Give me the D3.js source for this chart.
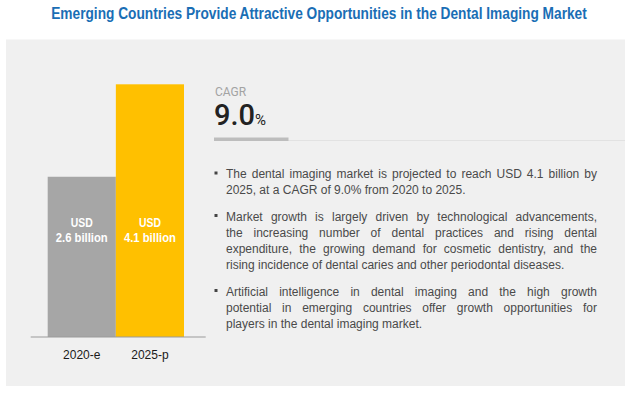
<!DOCTYPE html>
<html>
<head>
<meta charset="utf-8">
<script src="https://cdn.jsdelivr.net/npm/d3@7"></script>
<style>
  body { margin: 0; background: #fff; }
  svg { display: block; }
</style>
</head>
<body>
<script>
const title = 'Emerging Countries Provide Attractive Opportunities in the Dental Imaging Market';
const years = ['2020-e', '2025-p'];
const values = [2.6, 4.1];
const barColors = ['#a6a6a6', '#ffc000'];
const cagr = '9.0';

// each bullet is kept as its printed lines so the justified block matches
const bullets = [
  ['The dental imaging market is projected to reach USD 4.1 billion by',
   '2025, at a CAGR of 9.0% from 2020 to 2025.'],
  ['Market growth is largely driven by technological advancements,',
   'the increasing number of dental practices and rising dental',
   'expenditure, the growing demand for cosmetic dentistry, and the',
   'rising incidence of dental caries and other periodontal diseases.'],
  ['Artificial intelligence in dental imaging and the high growth',
   'potential in emerging countries offer growth opportunities for',
   'players in the dental imaging market.']
];

const width = 634, height = 394;
const svg = d3.select('body').append('svg')
  .attr('width', width)
  .attr('height', height);

// no condensed font is installed, so scale Arial bold horizontally instead
function narrow(sel, cx, cy, w) {
  const natural = sel.node().getComputedTextLength();
  sel.attr('text-anchor', 'middle')
    .attr('transform', 'translate(' + cx + ',' + cy + ') scale(' + (w / natural) + ',1)');
}

const titleText = svg.append('text')
  .style('font-family', 'Arial, "Liberation Sans", sans-serif')
  .style('font-weight', 'bold')
  .style('font-size', '16px')
  .style('fill', '#1a6eb5')
  .text(title);
narrow(titleText, 319, 19, 536);

svg.append('rect')
  .attr('x', 6).attr('y', 39.5)
  .attr('width', 619).attr('height', 346.5)
  .attr('fill', '#f0f0f0');

// bars
const x = d3.scaleBand().domain(years).range([47.7, 184]).padding(0);
const y = d3.scaleLinear().domain([0, 4.1]).range([337, 84.3]);

svg.selectAll('.bar')
  .data(values)
  .enter()
  .append('rect')
  .attr('class', 'bar')
  .attr('x', (d, i) => x(years[i]))
  .attr('y', (d) => y(d))
  .attr('width', x.bandwidth())
  .attr('height', (d) => y(0) - y(d))
  .attr('fill', (d, i) => barColors[i]);

svg.append('line')
  .attr('x1', 30.7).attr('x2', 205.7)
  .attr('y1', y(0)).attr('y2', y(0))
  .attr('stroke', '#9a9a9a')
  .attr('stroke-width', 1);

const cx = (i) => x(years[i]) + x.bandwidth() / 2;

values.forEach((v, i) => {
  const usd = svg.append('text')
    .attr('class', 'bar-label')
    .style('font-family', 'Arial, "Liberation Sans", sans-serif')
    .style('font-weight', 'bold')
    .style('font-size', '13px')
    .style('fill', '#fff')
    .text('USD');
  narrow(usd, cx(i), 227, 22);

  const amount = svg.append('text')
    .attr('class', 'bar-label')
    .style('font-family', 'Arial, "Liberation Sans", sans-serif')
    .style('font-weight', 'bold')
    .style('font-size', '13px')
    .style('fill', '#fff')
    .text(v.toFixed(1) + ' billion');
  narrow(amount, cx(i), 242, 52);
});

svg.selectAll('.year')
  .data(years)
  .enter()
  .append('text')
  .attr('class', 'year')
  .attr('x', (d) => x(d) + x.bandwidth() / 2)
  .attr('y', 359)
  .attr('text-anchor', 'middle')
  .style('font-family', 'Arial, "Liberation Sans", sans-serif')
  .style('font-size', '12px')
  .style('fill', '#1a1a1a')
  .text((d) => d);

// CAGR block
svg.append('text')
  .attr('x', 215).attr('y', 96)
  .style('font-family', 'Roboto, Arial, sans-serif')
  .style('font-size', '12px')
  .style('fill', '#a3a3a3')
  .text('CAGR');

const cagrText = svg.append('text')
  .attr('x', 214).attr('y', 125)
  .style('font-family', 'Roboto, Arial, sans-serif')
  .style('fill', '#222');
cagrText.append('tspan')
  .style('font-size', '29px')
  .style('font-weight', '500')
  .text(cagr);
cagrText.append('tspan')
  .style('font-size', '15px')
  .text('%');

svg.append('line')
  .attr('x1', 214).attr('x2', 625)
  .attr('y1', 140.5).attr('y2', 140.5)
  .attr('stroke', '#e2e2e2')
  .attr('stroke-width', 1);
svg.append('rect')
  .attr('x', 214).attr('y', 137.5)
  .attr('width', 74.5).attr('height', 3.5)
  .attr('fill', '#bdbdbd');

// bullet text, justified by word-spacing
const textLeft = 226, textRight = 597, lineH = 16;
const paraTop = [178, 220.5, 295.5];

bullets.forEach((lines, p) => {
  svg.append('rect')
    .attr('x', 214.5)
    .attr('y', paraTop[p] - 6.5)
    .attr('width', 3).attr('height', 3)
    .attr('fill', '#444');

  lines.forEach((line, k) => {
    const t = svg.append('text')
      .attr('x', textLeft)
      .attr('y', paraTop[p] + k * lineH)
      .style('font-family', 'Arial, "Liberation Sans", sans-serif')
      .style('font-size', '12px')
      .style('fill', '#4a4a4a')
      .text(line);
    if (k < lines.length - 1) {
      const spaces = line.split(' ').length - 1;
      const extra = (textRight - textLeft - t.node().getComputedTextLength()) / spaces;
      t.style('word-spacing', extra + 'px');
    }
  });
});
</script>
</body>
</html>
